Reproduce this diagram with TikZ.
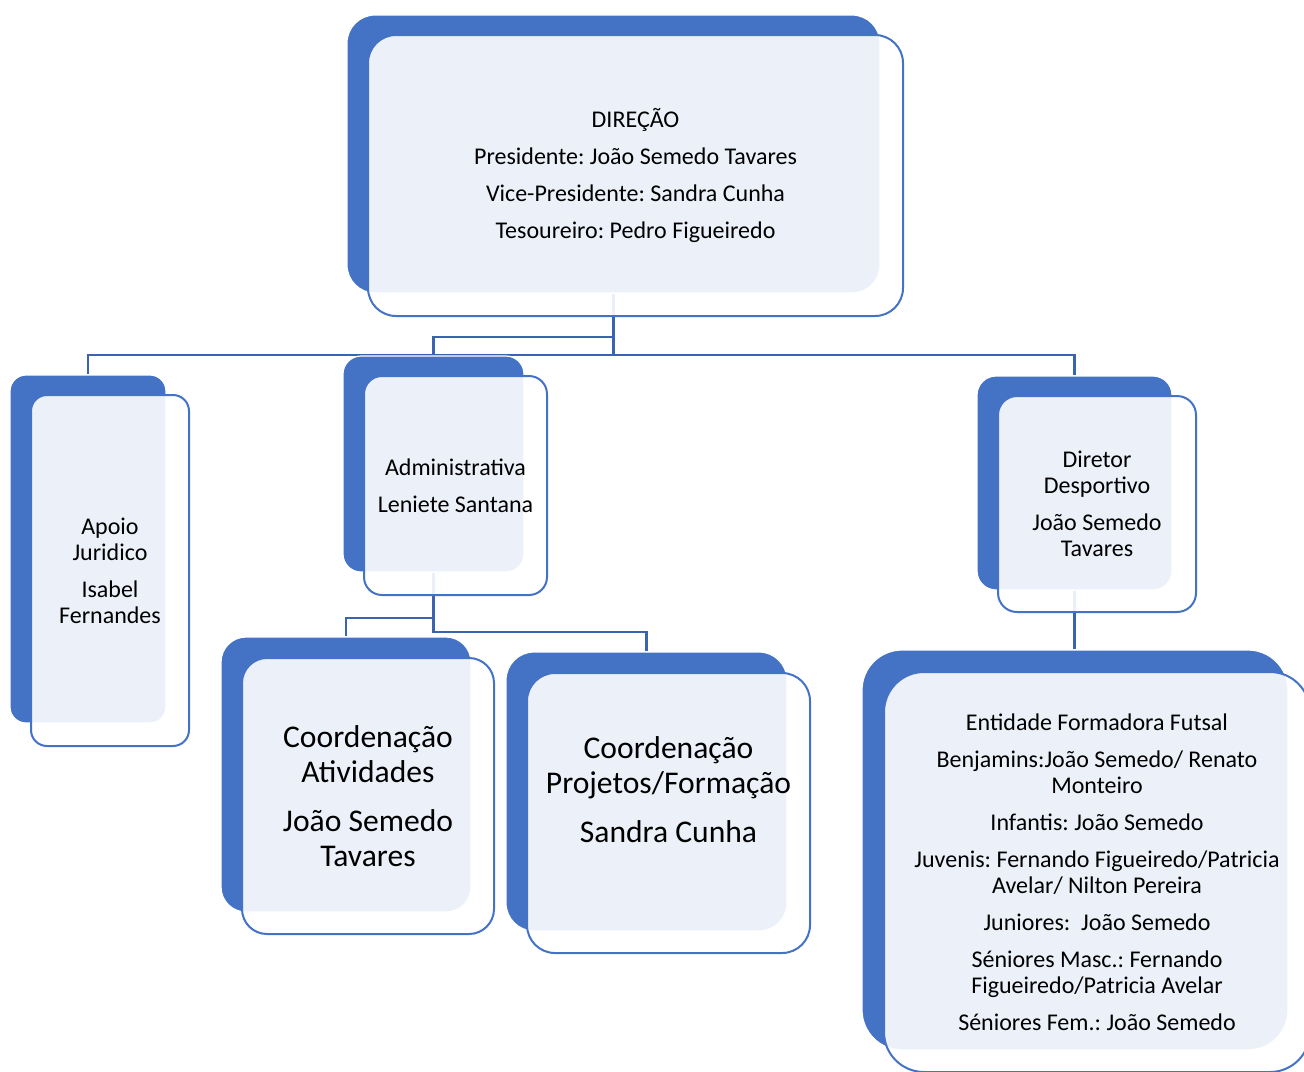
\documentclass[tikz,border=0pt]{standalone}
\usepackage{fontspec}
\setmainfont{Carlito}
\frenchspacing
\usepackage{tikz}
\usetikzlibrary{positioning,backgrounds,calc}
\definecolor{OrgBlue}{HTML}{4472C4}
\definecolor{OrgLine}{HTML}{3A63B0}
\tikzset{
  backbox/.style={draw=white,line width=0.6pt,fill=OrgBlue,inner sep=0pt},
  frontbox/.style={draw=OrgBlue,line width=1pt,fill=white,fill opacity=0.9,text opacity=1,align=center,inner sep=0pt,font=\fontsize{12pt}{13pt}\selectfont},
  bigtext/.style={font=\fontsize{15.8pt}{17.5pt}\selectfont},
  orgline/.style={draw=OrgLine,line width=1.3pt}
}

\begin{document}
\begin{tikzpicture}[x=0.5pt,y=-0.5pt]
\useasboundingbox (0,0) rectangle (1304,1071);
\clip (0,0) rectangle (1304,1071);

% Direction
\node[backbox,rounded corners=14pt,minimum width=266.5pt,minimum height=139pt] (dirB) at (613.5,154) {};
\node[frontbox,rounded corners=14pt,minimum width=267.5pt,minimum height=140.5pt] (dir) at (635.5,175.5) {DIREÇÃO\\[5.5pt]Presidente: João Semedo Tavares\\[5.5pt]Vice-Presidente: Sandra Cunha\\[5.5pt]Tesoureiro: Pedro Figueiredo};

% Second level
\node[backbox,rounded corners=8pt,minimum width=78pt,minimum height=174pt] (apoB) at (88,549) {};
\node[frontbox,rounded corners=8pt,minimum width=79pt,minimum height=175.5pt] (apo) at (110,570.5) {Apoio\\Juridico\\[5.5pt]Isabel\\Fernandes};

\node[backbox,rounded corners=9pt,minimum width=90.5pt,minimum height=108pt] (admB) at (433.5,464) {};
\node[frontbox,rounded corners=9pt,minimum width=91.5pt,minimum height=109.5pt] (adm) at (455.5,485.5) {Administrativa\\[5.5pt]Leniete Santana};

\node[backbox,rounded corners=9.5pt,minimum width=97.5pt,minimum height=107pt] (dtrB) at (1074.5,483) {};
\node[frontbox,rounded corners=9.5pt,minimum width=99pt,minimum height=108pt] (dtr) at (1097,504) {Diretor\\Desportivo\\[5.5pt]João Semedo\\Tavares};

% Third level
\node[backbox,rounded corners=12.5pt,minimum width=125pt,minimum height=137.5pt] (ativB) at (346,774.5) {};
\node[frontbox,bigtext,rounded corners=12.5pt,minimum width=126pt,minimum height=138pt] (ativ) at (368,796) {Coordenação\\Atividades\\[7pt]João Semedo\\Tavares};

\node[backbox,rounded corners=14pt,minimum width=140.5pt,minimum height=139.5pt] (projB) at (646.5,791.5) {};
\node[frontbox,bigtext,rounded corners=14pt,minimum width=141.5pt,minimum height=140pt] (proj) at (668.5,813) {Coordenação\\Projetos/Formação\\[7pt]Sandra Cunha\\[5.5pt]\mbox{}};

\node[backbox,rounded corners=20pt,minimum width=213pt,minimum height=200pt] (entB) at (1075,850) {};
\node[frontbox,rounded corners=20pt,minimum width=213pt,minimum height=200pt] (ent) at (1097,872) {Entidade Formadora Futsal\\[5.5pt]Benjamins:João Semedo/ Renato\\Monteiro\\[5.5pt]Infantis: João Semedo\\[5.5pt]Juvenis: Fernando Figueiredo/Patricia\\Avelar/ Nilton Pereira\\[5.5pt]Juniores:~ João Semedo\\[5.5pt]Séniores Masc.: Fernando\\Figueiredo/Patricia Avelar\\[5.5pt]Séniores Fem.: João Semedo};

% Connectors
\coordinate (busY) at (0,355);
\coordinate (admY) at (0,337);
\coordinate (ativY) at (0,618);
\coordinate (projY) at (0,632);
\begin{scope}[on background layer]
\draw[orgline] (dirB.south) -- (dirB.south |- busY);
\draw[orgline] (apoB.north) |- (dtrB.north |- busY) -- (dtrB.north);
\draw[orgline] (admB.north) |- (dirB.south |- admY);
\draw[orgline] (admB.south) -- (admB.south |- projY) -| (projB.north);
\draw[orgline] (ativB.north) |- (admB.south |- ativY);
\draw[orgline] (dtrB.south) -- (dtrB.south |- entB.north);
\end{scope}
\end{tikzpicture}
\end{document}
